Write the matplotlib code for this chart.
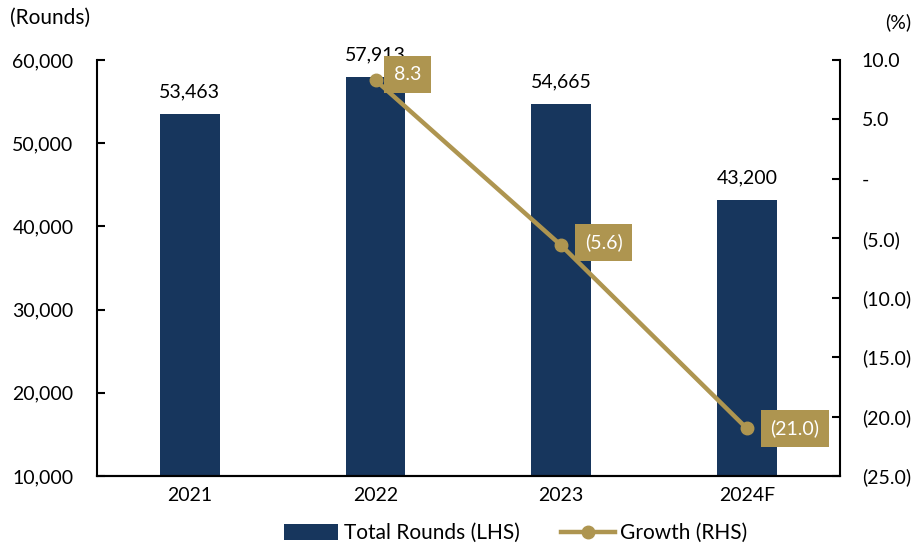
import matplotlib
matplotlib.use('Agg')
import matplotlib.pyplot as plt
import numpy as np
from matplotlib.ticker import FuncFormatter

plt.rcParams['font.family'] = ['Lato', 'DejaVu Sans']

years = ['2021', '2022', '2023', '2024F']
rounds = [53463, 57913, 54665, 43200]
growth_years = ['2022', '2023', '2024F']
growth = [8.3, -5.6, -21.0]
# label offsets (points) for the growth boxes
growth_offsets = [(13, 4), (17, 2), (17, 0)]

navy = '#17365D'
gold = '#AE9550'
fs = 14

fig = plt.figure(figsize=(9.18, 5.47), dpi=100)
ax = fig.add_axes([0.1057, 0.1298, 0.809, 0.7605])
ax2 = ax.twinx()

x = np.arange(len(years))
bars = ax.bar(x, rounds, width=0.32, color=navy, label='Total Rounds (LHS)', zorder=2)
for xi, v in zip(x, rounds):
    ax.annotate(f'{v:,}', (xi, v), xytext=(0, 10), textcoords='offset points',
                ha='center', va='bottom', fontsize=fs)

ax.set_ylim(10000, 60000)
ax.set_yticks(np.arange(10000, 60001, 10000))
ax.yaxis.set_major_formatter(FuncFormatter(lambda v, p: f'{int(v):,}'))
ax.set_xlim(-0.5, len(years) - 0.5)
ax.set_xticks(x)
ax.set_xticklabels(years)

gx = [years.index(y) for y in growth_years]
line, = ax2.plot(gx, growth, color=gold, lw=3.2, marker='o', ms=9,
                 label='Growth (RHS)', zorder=3)
for xi, v, off in zip(gx, growth, growth_offsets):
    txt = f'{v:.1f}' if v >= 0 else f'({abs(v):.1f})'
    ax2.annotate(txt, (xi, v), xytext=off, textcoords='offset points',
                 ha='left', va='center', fontsize=fs, color='white',
                 bbox=dict(boxstyle='square,pad=0.5', fc=gold, ec='none'))

ax2.set_ylim(-25, 10)
ax2.set_yticks(np.arange(-25, 10.1, 5))


def pct_fmt(v, p):
    if abs(v) < 1e-9:
        return '-'
    if v < 0:
        return f'({abs(v):.1f})'
    return f'{v:.1f}'


ax2.yaxis.set_major_formatter(FuncFormatter(pct_fmt))

for a in (ax, ax2):
    a.spines['top'].set_visible(False)
    for s in a.spines.values():
        s.set_color('black')
        s.set_linewidth(1.5)
ax2.spines['left'].set_visible(False)
ax.spines['right'].set_visible(False)

ax.tick_params(axis='y', direction='in', length=6, width=1.5, labelsize=fs, pad=17)
ax.tick_params(axis='x', length=0, labelsize=fs, pad=8)
ax2.tick_params(axis='y', direction='in', length=6, width=1.5, labelsize=fs, pad=16)
for lbl in ax2.get_yticklabels():
    lbl.set_horizontalalignment('left')

fig.text(0.011, 0.967, '(Rounds)', fontsize=fs + 1, ha='left', va='center')
fig.text(0.993, 0.96, '(%)', fontsize=fs, ha='right', va='center')

fig.legend([bars, line], ['Total Rounds (LHS)', 'Growth (RHS)'], loc='center',
           bbox_to_anchor=(0.562, 0.025), ncol=2, frameon=False, fontsize=fs + 1,
           handlelength=2.6, handleheight=0.8, columnspacing=2.0, handletextpad=0.25)

fig.savefig('out.png', dpi=100)
